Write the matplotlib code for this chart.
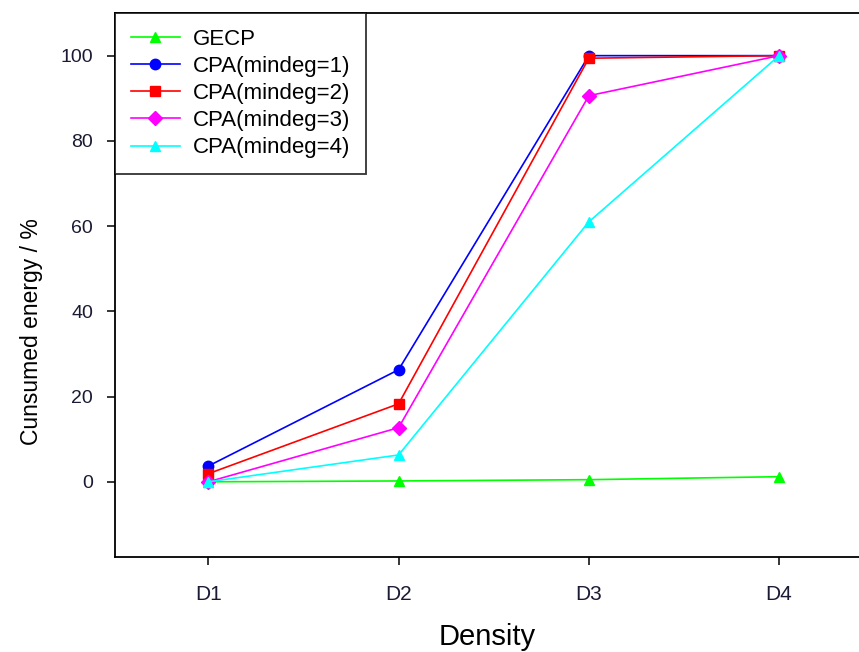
import matplotlib.pyplot as plt

plt.rcParams['font.family'] = ['Liberation Sans', 'DejaVu Sans']

# densities and consumed energy (%) per scheme
densities = ['D1', 'D2', 'D3', 'D4']
gecp = [0.0, 0.2, 0.5, 1.2]
cpa_1 = [3.7, 26.3, 100.0, 100.0]
cpa_2 = [1.9, 18.3, 99.4, 100.0]
cpa_3 = [0.0, 12.7, 90.6, 100.0]
cpa_4 = [0.0, 6.3, 61.0, 100.0]

x = [1, 2, 3, 4]

fig = plt.figure(figsize=(8.59, 6.52), dpi=100)
ax = fig.add_axes([0.134, 0.146, 0.866, 0.834])

ax.plot(x, gecp, color='#00ff00', marker='^', markersize=7.5, lw=1.2, label='GECP')
ax.plot(x, cpa_1, color='#0000ff', marker='o', markersize=7.5, lw=1.2, label='CPA(mindeg=1)')
ax.plot(x, cpa_2, color='#ff0000', marker='s', markersize=7.5, lw=1.2, label='CPA(mindeg=2)')
ax.plot(x, cpa_3, color='#ff00ff', marker='D', markersize=7, lw=1.2, label='CPA(mindeg=3)')
ax.plot(x, cpa_4, color='#00ffff', marker='^', markersize=7.5, lw=1.2, label='CPA(mindeg=4)')

ax.set_xlim(0.51, 4.42)
ax.set_ylim(-17.6, 110)
ax.set_xticks(x)
ax.set_xticklabels(densities)
ax.set_yticks([0, 20, 40, 60, 80, 100])

ax.spines['right'].set_visible(False)
for s in ['left', 'bottom', 'top']:
    ax.spines[s].set_linewidth(1.3)
ax.tick_params(direction='out', length=6, width=1.1, labelcolor='#1a1a33')
ax.tick_params(axis='y', pad=10, labelsize=14)
ax.tick_params(axis='x', pad=14, labelsize=15)

ax.set_xlabel('Density', fontsize=21, labelpad=14)
ax.set_ylabel('Cunsumed energy / %', fontsize=16.5)
ax.yaxis.set_label_coords(-0.097, 0.414)

leg = ax.legend(loc='upper left', bbox_to_anchor=(0.0, 1.0), fontsize=16,
                frameon=True, fancybox=False, edgecolor='black',
                handlelength=2.2, handletextpad=0.6, labelspacing=0.28,
                borderpad=0.7, borderaxespad=0)
leg.get_frame().set_linewidth(1.3)

fig.savefig('out.png', dpi=100)
